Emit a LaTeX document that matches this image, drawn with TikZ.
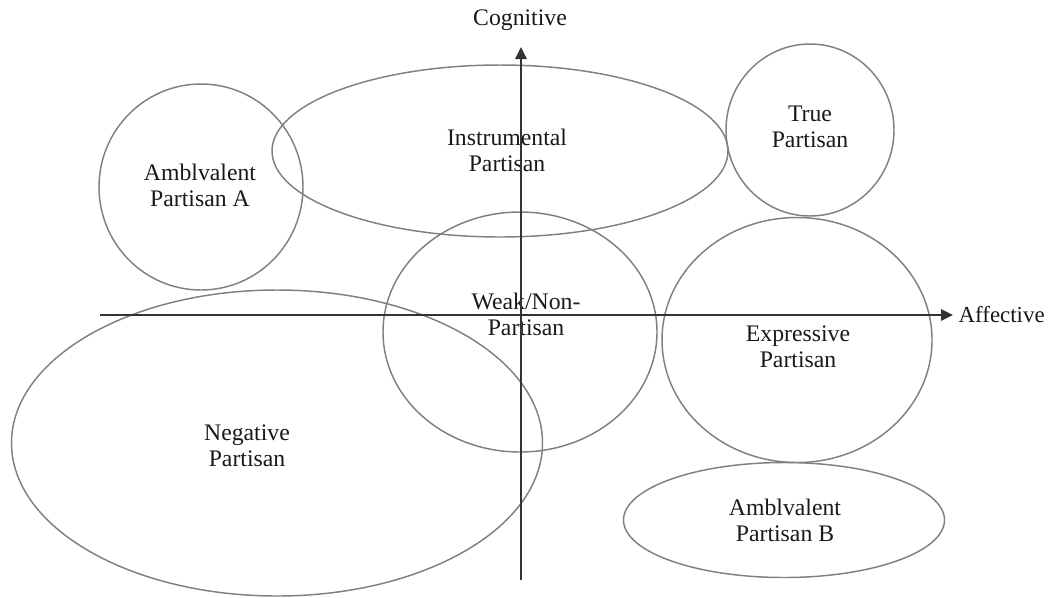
\documentclass[tikz,border=0pt]{standalone}
\usepackage{fontspec}
\setmainfont{Liberation Serif}
\usetikzlibrary{shapes.geometric,arrows.meta}
\begin{document}
\begin{tikzpicture}[x=0.75pt,y=-0.75pt,
  region/.style={draw=black!50,line width=1.1pt,ellipse,inner sep=0pt},
  lbl/.style={font=\fontsize{17.8}{19.5}\selectfont,text=black!90,align=center},
  axis/.style={draw=black!80,line width=1.5pt,-{Triangle[length=9pt,width=8.5pt]}}]
\useasboundingbox (0,0) rectangle (1048,597);
% regions
\node[region,minimum width=204*0.75pt,minimum height=206*0.75pt] (ambA) at (201,187) {};
\node[region,minimum width=456*0.75pt,minimum height=172*0.75pt] (instr) at (500,151) {};
\node[region,minimum width=168*0.75pt,minimum height=172*0.75pt] (true) at (810,130) {};
\node[region,minimum width=274*0.75pt,minimum height=240*0.75pt] (weak) at (520,332) {};
\node[region,minimum width=270*0.75pt,minimum height=245*0.75pt] (expr) at (797,340) {};
\node[region,minimum width=531*0.75pt,minimum height=306*0.75pt] (neg) at (277,443) {};
\node[region,minimum width=321*0.75pt,minimum height=115*0.75pt] (ambB) at (784,520) {};
% labels
\node[lbl] (tambA) at (200,185) {Amblvalent\\Partisan A};
\node[lbl] (tinstr) at (507,150) {Instrumental\\Partisan};
\node[lbl] (ttrue) at (810,127) {True\\Partisan};
\node[lbl] (tweak) at (526,314) {Weak/Non-\\Partisan};
\node[lbl] (texpr) at (798,347) {Expressive\\Partisan};
\node[lbl] (tneg) at (247,446) {Negative\\Partisan};
\node[lbl] (tambB) at (785,520) {Amblvalent\\Partisan B};
% axes
\coordinate (vbot) at (521,580);
\coordinate (vtop) at (521,47);
\coordinate (hleft) at (100,315);
\coordinate (hright) at (953,315);
\draw[axis] (vbot) -- (vtop);
\draw[axis] (hleft) -- (hright);
\node[lbl,anchor=south] (cog) at (520,35) {Cognitive};
\node[lbl,anchor=east,inner sep=0pt,font=\fontsize{17.2}{19.5}\selectfont] (aff) at (1045,315) {Affective};
\end{tikzpicture}
\end{document}
